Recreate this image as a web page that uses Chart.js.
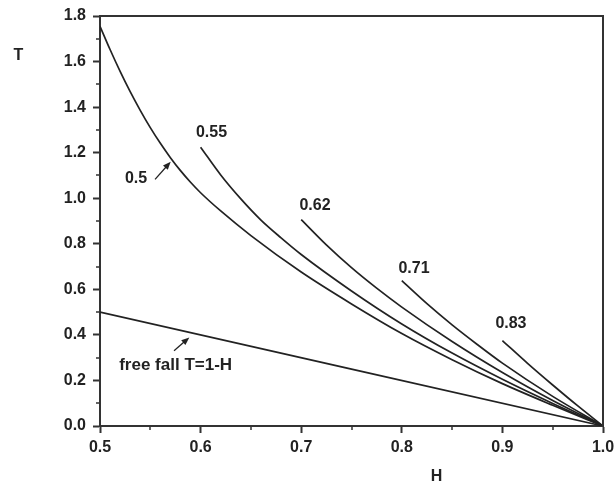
<!DOCTYPE html>
<html>
<head>
<meta charset="utf-8">
<script src="https://cdn.jsdelivr.net/npm/chart.js@4/dist/chart.umd.min.js"></script>
<style>
html,body{margin:0;padding:0;background:#fff;}
#wrap{width:616px;height:484px;position:relative;}
</style>
</head>
<body>
<div id="wrap"><canvas id="c" width="616" height="484"></canvas></div>
<script>
// ---- data ----
const H_05  = [0.50, 0.51, 0.52, 0.53, 0.54, 0.55, 0.56, 0.57, 0.58, 0.59, 0.60, 0.62, 0.65, 0.70, 0.75, 0.80, 0.85, 0.90, 0.95, 1.00];
const T_05  = [1.755,1.653,1.557,1.468,1.386,1.310,1.241,1.178,1.121,1.070,1.024,0.944,0.836,0.676,0.536,0.406,0.291,0.186,0.091,0.00];
const H_055 = [0.60, 0.62, 0.64, 0.66, 0.68, 0.70, 0.75, 0.80, 0.85, 0.90, 0.95, 1.00];
const T_055 = [1.224,1.102,0.997,0.904,0.826,0.753,0.593,0.448,0.320,0.205,0.099,0.00];
const H_062 = [0.70, 0.725, 0.75, 0.775, 0.80, 0.85, 0.90, 0.95, 1.00];
const T_062 = [0.906,0.795, 0.695,0.605, 0.522,0.371,0.235,0.112,0.00];
const H_071 = [0.80, 0.825, 0.85, 0.875, 0.90, 0.95, 1.00];
const T_071 = [0.638,0.537, 0.444,0.358, 0.276,0.130,0.00];
const H_083 = [0.90, 0.925, 0.95, 0.975, 1.00];
const T_083 = [0.375,0.275, 0.180,0.088, 0.00];
const H_FF  = [0.50, 1.00];
const T_FF  = [0.50, 0.00];

const curveLabels = ["0.5", "0.55", "0.62", "0.71", "0.83"];
const xTickLabels = ["0.5", "0.6", "0.7", "0.8", "0.9", "1.0"];
const yTickLabels = ["0.0", "0.2", "0.4", "0.6", "0.8", "1.0", "1.2", "1.4", "1.6", "1.8"];
const xTitle = "H";
const yTitle = "T";
const freeFallLabel = "free fall T=1-H";

// annotation anchors (data units)
const textAnchors = [
  {text: curveLabels[0], h: 0.5358, t: 1.0865, size: 16},
  {text: curveLabels[1], h: 0.6108, t: 1.288,  size: 16},
  {text: curveLabels[2], h: 0.7137, t: 0.968,  size: 16},
  {text: curveLabels[3], h: 0.8121, t: 0.689,  size: 16},
  {text: curveLabels[4], h: 0.9085, t: 0.450,  size: 16},
  {text: freeFallLabel,  h: 0.5752, t: 0.268,  size: 17}
];
const arrows = [
  {h0: 0.5547, t0: 1.083, h1: 0.5703, t1: 1.160},
  {h0: 0.5736, t0: 0.3306, h1: 0.5888, t1: 0.389}
];

const INK = '#222';
const AXIS = '#333';

function pts(hs, ts){ return hs.map((h,i)=>({x:h, y:ts[i]})); }
function ds(hs, ts){
  return {data: pts(hs, ts), borderColor: INK, borderWidth: 1.7, pointRadius: 0,
          fill: false, cubicInterpolationMode: 'monotone'};
}

const overlay = {
  id: 'overlay',
  afterDraw(chart){
    const ctx = chart.ctx, xs = chart.scales.x, ys = chart.scales.y, a = chart.chartArea;
    ctx.save();
    ctx.strokeStyle = AXIS; ctx.lineWidth = 2;
    ctx.beginPath();
    ctx.moveTo(a.left, a.top); ctx.lineTo(a.right, a.top); ctx.lineTo(a.right, a.bottom);
    ctx.stroke();
    ctx.lineWidth = 1.5;
    ctx.beginPath();
    for (let k = 0; k < 5; k++){
      const v = 0.55 + k*0.1;
      const px = Math.round(xs.getPixelForValue(v));
      ctx.moveTo(px, a.bottom); ctx.lineTo(px, a.bottom + 4);
    }
    for (let k = 0; k < 9; k++){
      const v = 0.1 + k*0.2;
      const py = Math.round(ys.getPixelForValue(v));
      ctx.moveTo(a.left, py); ctx.lineTo(a.left - 4, py);
    }
    ctx.stroke();
    ctx.fillStyle = INK;
    ctx.textAlign = 'center'; ctx.textBaseline = 'middle';
    textAnchors.forEach(tx => {
      ctx.font = 'bold ' + tx.size + 'px "Liberation Sans", Arial, sans-serif';
      ctx.fillText(tx.text, xs.getPixelForValue(tx.h), ys.getPixelForValue(tx.t));
    });
    ctx.font = 'bold 16px "Liberation Sans", Arial, sans-serif';
    ctx.fillText(yTitle, 18.5, ys.getPixelForValue(1.625));
    ctx.fillText(xTitle, xs.getPixelForValue(0.8345), 477);
    ctx.strokeStyle = INK; ctx.lineWidth = 1.3;
    arrows.forEach(ar => {
      const x0 = xs.getPixelForValue(ar.h0), y0 = ys.getPixelForValue(ar.t0);
      const x1 = xs.getPixelForValue(ar.h1), y1 = ys.getPixelForValue(ar.t1);
      const ang = Math.atan2(y1 - y0, x1 - x0);
      ctx.beginPath(); ctx.moveTo(x0, y0); ctx.lineTo(x1 - 4*Math.cos(ang), y1 - 4*Math.sin(ang)); ctx.stroke();
      const L = 8, W = 3.2;
      ctx.beginPath();
      ctx.moveTo(x1, y1);
      ctx.lineTo(x1 - L*Math.cos(ang) + W*Math.sin(ang), y1 - L*Math.sin(ang) - W*Math.cos(ang));
      ctx.lineTo(x1 - L*Math.cos(ang) - W*Math.sin(ang), y1 - L*Math.sin(ang) + W*Math.cos(ang));
      ctx.closePath(); ctx.fill();
    });
    ctx.restore();
  }
};

const tickFont = {family: '"Liberation Sans", Arial, sans-serif', size: 16, weight: 'bold'};

new Chart(document.getElementById('c'), {
  type: 'line',
  data: {
    datasets: [ds(H_05, T_05), ds(H_055, T_055), ds(H_062, T_062), ds(H_071, T_071), ds(H_083, T_083), ds(H_FF, T_FF)]
  },
  options: {
    responsive: false,
    animation: false,
    devicePixelRatio: 1,
    layout: {padding: {left: 0, top: 16, right: 13, bottom: 0}},
    plugins: {legend: {display: false}, tooltip: {enabled: false}},
    scales: {
      x: {
        type: 'linear', min: 0.5, max: 1.0,
        afterBuildTicks: s => { s.ticks = xTickLabels.map(l => ({value: parseFloat(l)})); },
        ticks: {callback: (v, i) => xTickLabels[i], font: tickFont, color: INK, padding: 5, maxRotation: 0, autoSkip: false},
        grid: {drawOnChartArea: false, drawTicks: true, tickLength: 7, tickWidth: 2, tickColor: AXIS},
        border: {display: true, color: AXIS, width: 2},
        afterFit: s => { s.height = 58; s.paddingLeft = 0; s.paddingRight = 0; }
      },
      y: {
        type: 'linear', min: 0, max: 1.8,
        afterBuildTicks: s => { s.ticks = yTickLabels.map(l => ({value: parseFloat(l)})); },
        ticks: {callback: (v, i) => yTickLabels[i], font: tickFont, color: INK, padding: 7, autoSkip: false},
        grid: {drawOnChartArea: false, drawTicks: true, tickLength: 7, tickWidth: 2, tickColor: AXIS},
        border: {display: true, color: AXIS, width: 2},
        afterFit: s => { s.width = 100; s.paddingTop = 0; s.paddingBottom = 0; }
      }
    }
  },
  plugins: [overlay]
});
</script>
</body>
</html>
